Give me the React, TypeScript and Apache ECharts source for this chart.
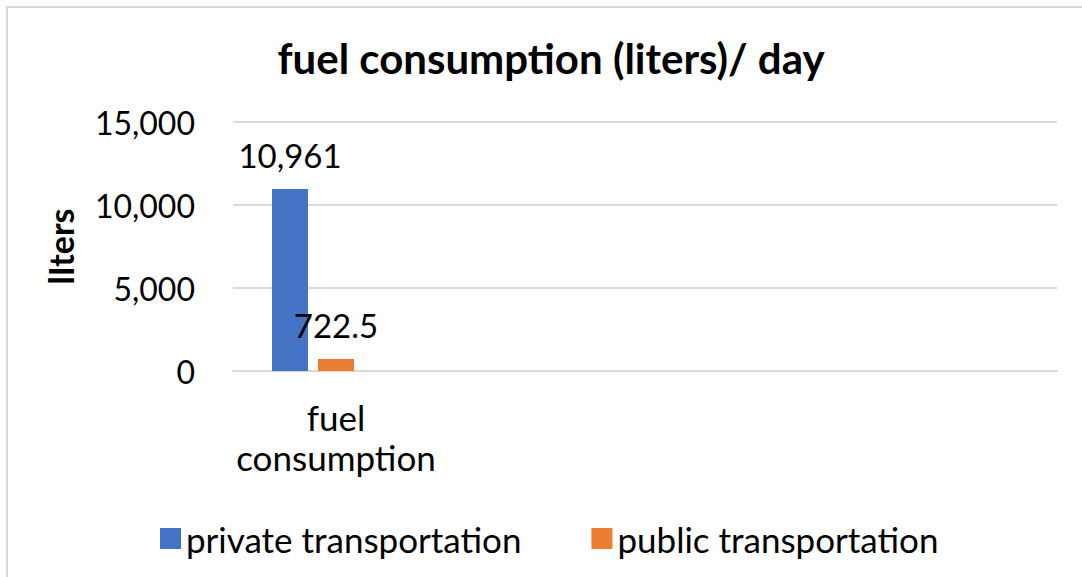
import React, { useEffect, useRef } from "react";
import * as echarts from "echarts";

const categories = ["fuel\nconsumption", "", "", ""];
const privateValues = [10961];
const publicValues = [722.5];
const yTicks = [0, 5000, 10000, 15000];
const seriesNames = ["private transportation", "public transportation"];

const FONT = "Lato, 'Liberation Sans', sans-serif";

export default function App() {
  const ref = useRef<HTMLDivElement>(null);
  useEffect(() => {
    if (!ref.current) return;
    const chart = echarts.init(ref.current, undefined, { renderer: "svg" });
    const fmt = (v: number) =>
      v.toLocaleString("en-US", { maximumFractionDigits: 1 });
    const valueLabel = {
      show: true,
      position: "top",
      distance: 18,
      fontFamily: FONT,
      fontSize: 33,
      color: "#000",
      formatter: (p: any) => fmt(p.value),
    };
    chart.setOption({
      animation: false,
      backgroundColor: "#ffffff",
      textStyle: { fontFamily: FONT },
      title: {
        text: "fuel consumption (liters)/ day",
        left: 546,
        textAlign: "center",
        top: 32,
        textStyle: { fontFamily: FONT, fontWeight: "bold", fontSize: 42, color: "#000" },
      },
      graphic: [
        {
          type: "rect",
          shape: { x: 7, y: 7, width: 1100, height: 600 },
          style: { fill: "none", stroke: "#d9d9d9", lineWidth: 2 },
          silent: true,
        },
      ],
      legend: {
        left: 155,
        top: 516,
        itemWidth: 21,
        itemHeight: 21,
        itemGap: 70,
        icon: "rect",
        data: seriesNames,
        textStyle: { fontFamily: FONT, fontSize: 35, color: "#000" },
      },
      grid: { left: 233, right: 25, top: 122, bottom: 577 - 371, containLabel: false },
      xAxis: {
        type: "category",
        data: categories,
        axisLine: { show: true, lineStyle: { color: "#d9d9d9", width: 2 } },
        axisTick: { show: false },
        axisLabel: {
          fontFamily: FONT,
          fontSize: 35,
          color: "#000",
          margin: 26,
          lineHeight: 40,
          interval: 0,
        },
      },
      yAxis: {
        type: "value",
        min: yTicks[0],
        max: yTicks[yTicks.length - 1],
        interval: 5000,
        name: "lIters",
        nameLocation: "middle",
        nameGap: 156,
        nameRotate: 90,
        nameTextStyle: { fontFamily: FONT, fontWeight: "bold", fontSize: 34, color: "#000" },
        axisLine: { show: false },
        axisTick: { show: false },
        splitLine: { lineStyle: { color: "#d9d9d9", width: 2 } },
        axisLabel: {
          fontFamily: FONT,
          fontSize: 32,
          color: "#000",
          margin: 38,
          formatter: (v: number) => fmt(v),
        },
      },
      series: [
        {
          name: seriesNames[0],
          type: "bar",
          data: privateValues,
          barWidth: 36,
          barGap: "27.8%",
          itemStyle: { color: "#4472C4" },
          label: valueLabel,
        },
        {
          name: seriesNames[1],
          type: "bar",
          data: publicValues,
          barWidth: 36,
          barGap: "27.8%",
          itemStyle: { color: "#ED7D31" },
          label: valueLabel,
        },
        {
          name: "",
          type: "bar",
          data: [],
          barWidth: 36,
          barGap: "27.8%",
          itemStyle: { color: "transparent" },
        },
      ],
    });
    return () => chart.dispose();
  }, []);
  return (
    <div
      ref={ref}
      style={{ position: "fixed", left: 0, top: 0, width: 1082, height: 577 }}
    />
  );
}
